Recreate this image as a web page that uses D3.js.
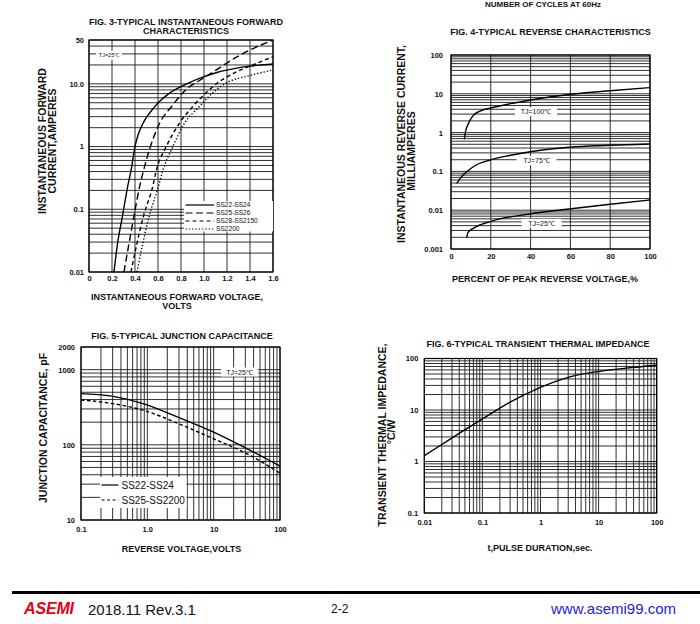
<!DOCTYPE html>
<html><head><meta charset="utf-8">
<script src="https://cdn.jsdelivr.net/npm/d3@7"></script>
<style>
body{margin:0;background:#fff;}
svg{display:block;font-family:"Liberation Sans",Arial,sans-serif;}
</style></head><body>
<svg id="c" width="700" height="624"></svg>
<script>
// ---------- FIG. 3 data (volts, amperes) ----------
const fig3XTicks = [0,0.2,0.4,0.6,0.8,1.0,1.2,1.4,1.6];
const fig3XLabels = ["0","0.2","0.4","0.6","0.8","1.0","1.2","1.4","1.6"];
const fig3YTicks = [0.01,0.1,1,10,50];
const fig3YLabels = ["0.01","0.1","1","10.0","50"];
const fig3SeriesNames = ["SS22-SS24","SS25-SS26","SS28-SS2150","SS2200"];
const fig3SS22 = [[0.217,0.01],[0.25,0.03],[0.29,0.076],[0.336,0.23],[0.366,0.42],[0.40,1.0],[0.43,1.6],[0.47,2.35],[0.57,4.3],[0.70,7.1],[0.86,10.2],[1.0,13],[1.12,15.3],[1.25,17.3],[1.38,19],[1.5,20],[1.6,20.7]];
const fig3SS25 = [[0.304,0.01],[0.39,0.076],[0.44,0.23],[0.475,0.42],[0.53,0.95],[0.614,2.35],[0.72,4.4],[0.86,8.6],[0.95,11],[1.09,15.9],[1.27,25.9],[1.5,42],[1.6,50]];
const fig3SS28 = [[0.365,0.01],[0.472,0.076],[0.554,0.23],[0.586,0.42],[0.672,1.0],[0.786,2.35],[0.90,4.3],[1.014,7.1],[1.114,10.2],[1.25,14.5],[1.41,19.5],[1.6,27]];
const fig3SS2200 = [[0.417,0.01],[0.522,0.076],[0.603,0.23],[0.643,0.42],[0.729,1.0],[0.83,2.35],[0.957,4.3],[1.04,6.25],[1.18,10],[1.4,13.6],[1.6,16.6]];

// ---------- FIG. 4 data (% of peak reverse voltage, mA) ----------
const fig4XTicks = [0,20,40,60,80,100];
const fig4XLabels = ["0","20","40","60","80","100"];
const fig4YTicks = [0.001,0.01,0.1,1,10,100];
const fig4YLabels = ["0.001","0.01","0.1","1","10","100"];
const fig4TJ100 = [[6.7,0.67],[7.2,1.0],[8.7,1.7],[11,2.7],[14.6,3.6],[20,4.3],[30,5.6],[40,6.9],[60,9.7],[80,12],[100,14.4]];
const fig4TJ75 = [[2.9,0.049],[5,0.07],[7.9,0.098],[12,0.14],[19.6,0.197],[30,0.26],[39.7,0.32],[59.3,0.42],[80,0.47],[100,0.51]];
const fig4TJ25 = [[7.9,0.002],[8.6,0.0027],[11.2,0.0034],[19.6,0.0051],[39.7,0.008],[59.3,0.0107],[80,0.0142],[100,0.0183]];

// ---------- FIG. 5 data (volts, pF) ----------
const fig5XTicks = [0.1,1,10,100];
const fig5XLabels = ["0.1","1.0","10","100"];
const fig5YTicks = [10,100,1000,2000];
const fig5YLabels = ["10","100","1000","2000"];
const fig5SeriesNames = ["SS22-SS24","SS25-SS2200"];
const fig5SS22 = [[0.1,480],[0.29,445],[0.93,345],[3.0,230],[9.6,150],[31,90],[100,52]];
const fig5SS25 = [[0.1,395],[0.29,355],[0.93,283],[3.0,190],[9.6,122],[31,77],[100,42]];

// ---------- FIG. 6 data (sec, °C/W) ----------
const fig6XTicks = [0.01,0.1,1,10,100];
const fig6XLabels = ["0.01","0.1","1","10","100"];
const fig6YTicks = [0.1,1,10,100];
const fig6YLabels = ["0.1","1","10","100"];
const fig6Z = [[0.01,1.3],[0.02,2.14],[0.041,3.6],[0.1,6.7],[0.3,14.2],[1,27.5],[3.2,44],[10,56],[30,65],[100,74]];

const svg = d3.select("#c");

function logGrid(lo, hi){
  const out=[];
  for(let e=Math.floor(Math.log10(lo)); e<=Math.ceil(Math.log10(hi)); e++){
    for(let m=1;m<10;m++){
      const v=m*Math.pow(10,e);
      if(v>=lo*0.999 && v<=hi*1.001) out.push(v);
    }
  }
  return out;
}

let clipId = 0;
function panel(o){
  const g = svg.append("g");
  const x = (o.xLog ? d3.scaleLog() : d3.scaleLinear()).domain(o.xDomain).range(o.xRange);
  const y = (o.yLog ? d3.scaleLog() : d3.scaleLinear()).domain(o.yDomain).range(o.yRange);
  const [x0,x1] = o.xRange, [y0,y1] = [o.yRange[1], o.yRange[0]];
  g.append("g").selectAll("line").data(o.xGrid).join("line")
    .attr("x1",d=>x(d)).attr("x2",d=>x(d)).attr("y1",y0).attr("y2",y1)
    .attr("stroke","#1a1a1a").attr("stroke-width",0.9);
  g.append("g").selectAll("line").data(o.yGrid).join("line")
    .attr("y1",d=>y(d)).attr("y2",d=>y(d)).attr("x1",x0).attr("x2",x1)
    .attr("stroke","#1a1a1a").attr("stroke-width",0.9);
  g.append("rect").attr("x",x0).attr("y",y0).attr("width",x1-x0).attr("height",y1-y0)
    .attr("fill","none").attr("stroke","#000").attr("stroke-width",1.2);
  const ax = g.append("g").attr("transform",`translate(0,${y1})`)
    .call(d3.axisBottom(x).tickValues(o.xTicks).tickFormat((d,i)=>o.xLabels[i]).tickSize(0).tickPadding(o.xPad));
  const ay = g.append("g").attr("transform",`translate(${x0},0)`)
    .call(d3.axisLeft(y).tickValues(o.yTicks).tickFormat((d,i)=>o.yLabels[i]).tickSize(0).tickPadding(o.yPad));
  [ax,ay].forEach(a=>{
    a.select(".domain").remove();
    a.selectAll("text").attr("font-family","Liberation Sans, Arial, sans-serif")
      .attr("font-size",7.5).attr("font-weight","bold").attr("fill","#111");
  });
  const id = "clip"+(clipId++);
  g.append("clipPath").attr("id",id).append("rect").attr("x",x0).attr("y",y0).attr("width",x1-x0).attr("height",y1-y0);
  const line = d3.line().x(d=>x(d[0])).y(d=>y(d[1])).curve(d3.curveMonotoneX);
  const cg = g.append("g").attr("clip-path",`url(#${id})`);
  o.series.forEach(s=>{
    cg.append("path").attr("d",line(s.data)).attr("fill","none").attr("stroke","#000")
      .attr("stroke-width",1.4).attr("stroke-dasharray",s.dash||null);
  });
  o.title.forEach((t,i)=>{
    g.append("text").attr("x",o.titleX).attr("y",o.titleY+i*9.2).attr("text-anchor","middle")
      .attr("font-size",9).attr("font-weight","bold").attr("fill","#111").text(t);
  });
  o.xTitle.forEach((t,i)=>{
    g.append("text").attr("x",o.xTitleX).attr("y",o.xTitleY+i*8.5).attr("text-anchor","middle")
      .attr("font-size",9).attr("font-weight","bold").attr("fill","#111").text(t);
  });
  o.yTitle.forEach((t,i)=>{
    g.append("text").attr("transform",`translate(${o.yTitleX[i]},${o.yTitleY[i]}) rotate(-90)`)
      .attr("text-anchor","middle").attr("font-size",10.5).attr("font-weight","bold").attr("fill","#111").text(t);
  });
  return {g,x,y};
}

function tag(g, cx, cy, w, text, fs){
  g.append("rect").attr("x",cx-w/2).attr("y",cy-4.5).attr("width",w).attr("height",9).attr("fill","#fff");
  g.append("text").attr("x",cx).attr("y",cy+fs*0.36).attr("text-anchor","middle")
    .attr("font-size",fs).attr("fill","#111").text(text);
}

// ---------- FIG 3 ----------
const p3 = panel({
  xLog:false, yLog:true, xDomain:[0,1.6], yDomain:[0.01,50], xRange:[89,273], yRange:[272,40],
  xGrid:fig3XTicks, yGrid:logGrid(0.01,50), xTicks:fig3XTicks, xLabels:fig3XLabels,
  yTicks:fig3YTicks, yLabels:fig3YLabels, xPad:3.2, yPad:5,
  series:[{data:fig3SS22},{data:fig3SS25,dash:"7,3.5"},{data:fig3SS28,dash:"4,3"},{data:fig3SS2200,dash:"1.3,2"}],
  title:["FIG. 3-TYPICAL INSTANTANEOUS FORWARD","CHARACTERISTICS"], titleX:186, titleY:24.5,
  xTitle:["INSTANTANEOUS FORWARD VOLTAGE,","VOLTS"], xTitleX:177, xTitleY:300,
  yTitle:["INSTANTANEOUS FORWARD","CURRENT,AMPERES"], yTitleX:[46,56], yTitleY:[141,141]
});
tag(p3.g, 109, 55.3, 26, "TJ=25\u2103", 5.5);
{
  const lg = p3.g.append("g");
  lg.append("rect").attr("x",184).attr("y",201).attr("width",89).attr("height",30.5).attr("fill","#fff");
  const dashes = [null,"7,3.5","4,3","1.3,2"];
  fig3SeriesNames.forEach((n,i)=>{
    const yy = 205+i*8;
    lg.append("line").attr("x1",185.5).attr("x2",214).attr("y1",yy).attr("y2",yy)
      .attr("stroke","#000").attr("stroke-width",1.2).attr("stroke-dasharray",dashes[i]);
    lg.append("text").attr("x",216).attr("y",yy+2.4).attr("font-size",6.6).attr("fill","#111").text(n);
  });
}

// ---------- FIG 4 ----------
const p4 = panel({
  xLog:false, yLog:true, xDomain:[0,100], yDomain:[0.001,100], xRange:[451,650], yRange:[249,55],
  xGrid:fig4XTicks, yGrid:logGrid(0.001,100), xTicks:fig4XTicks, xLabels:fig4XLabels,
  yTicks:fig4YTicks, yLabels:fig4YLabels, xPad:4.2, yPad:8,
  series:[{data:fig4TJ100},{data:fig4TJ75},{data:fig4TJ25}],
  title:["FIG. 4-TYPICAL REVERSE CHARACTERISTICS"], titleX:550.5, titleY:35,
  xTitle:["PERCENT OF PEAK REVERSE VOLTAGE,%"], xTitleX:545, xTitleY:282,
  yTitle:["INSTANTANEOUS REVERSE CURRENT,","MILLIAMPERES"], yTitleX:[405,414.5], yTitleY:[144,151]
});
tag(p4.g, 536, 111.7, 42, "TJ=100\u2103", 7);
tag(p4.g, 536.5, 160.7, 40, "TJ=75\u2103", 7);
tag(p4.g, 541.5, 223.3, 40, "TJ=25\u2103", 7);

// ---------- FIG 5 ----------
const p5 = panel({
  xLog:true, yLog:true, xDomain:[0.1,100], yDomain:[10,2000], xRange:[81,280], yRange:[520,347],
  xGrid:logGrid(0.1,100), yGrid:logGrid(10,2000), xTicks:fig5XTicks, xLabels:fig5XLabels,
  yTicks:fig5YTicks, yLabels:fig5YLabels, xPad:6.7, yPad:6,
  series:[{data:fig5SS22},{data:fig5SS25,dash:"3.5,2.5"}],
  title:["FIG. 5-TYPICAL JUNCTION CAPACITANCE"], titleX:182, titleY:338.5,
  xTitle:["REVERSE VOLTAGE,VOLTS"], xTitleX:181.5, xTitleY:552,
  yTitle:["JUNCTION CAPACITANCE, pF"], yTitleX:[47], yTitleY:[428]
});
tag(p5.g, 239.5, 372, 37, "TJ=25\u2103", 7);
{
  const lg = p5.g.append("g");
  lg.append("rect").attr("x",100).attr("y",477).attr("width",86.5).attr("height",31).attr("fill","#fff");
  const dashes = [null,"3,2.5"];
  fig5SeriesNames.forEach((n,i)=>{
    const yy = 485+i*15;
    lg.append("line").attr("x1",101.5).attr("x2",118.5).attr("y1",yy).attr("y2",yy)
      .attr("stroke","#000").attr("stroke-width",1.2).attr("stroke-dasharray",dashes[i]);
    lg.append("text").attr("x",121.5).attr("y",yy+3.6).attr("font-size",10).attr("fill","#111").text(n);
  });
}

// ---------- FIG 6 ----------
panel({
  xLog:true, yLog:true, xDomain:[0.01,100], yDomain:[0.1,100], xRange:[424.3,656.7], yRange:[513,358.5],
  xGrid:logGrid(0.01,100), yGrid:logGrid(0.1,100), xTicks:fig6XTicks, xLabels:fig6XLabels,
  yTicks:fig6YTicks, yLabels:fig6YLabels, xPad:6.7, yPad:6,
  series:[{data:fig6Z}],
  title:["FIG. 6-TYPICAL TRANSIENT THERMAL IMPEDANCE"], titleX:538, titleY:347,
  xTitle:["t,PULSE DURATION,sec."], xTitleX:540, xTitleY:551,
  yTitle:["TRANSIENT THERMAL IMPEDANCE,","\u00B0C/W"], yTitleX:[385.5,395], yTitleY:[435,432]
});

// ---------- header fragment and footer ----------
svg.append("text").attr("x",543).attr("y",7).attr("text-anchor","middle")
  .attr("font-size",8).attr("font-weight","bold").attr("fill","#111").text("NUMBER OF CYCLES AT 60Hz");
svg.append("line").attr("x1",12).attr("x2",700).attr("y1",592.5).attr("y2",592.5)
  .attr("stroke","#000").attr("stroke-width",3);
svg.append("text").attr("x",24).attr("y",614).attr("font-size",16).attr("font-weight","bold")
  .attr("font-style","italic").attr("fill","#e60012").attr("textLength",50).text("ASEMI");
svg.append("text").attr("x",88).attr("y",615).attr("font-size",15).attr("fill","#111").text("2018.11 Rev.3.1");
svg.append("text").attr("x",331).attr("y",613).attr("font-size",12).attr("fill","#111").text("2-2");
svg.append("text").attr("x",551).attr("y",614).attr("font-size",15).attr("fill","#1a1aee").text("www.asemi99.com");
</script>
</body></html>
